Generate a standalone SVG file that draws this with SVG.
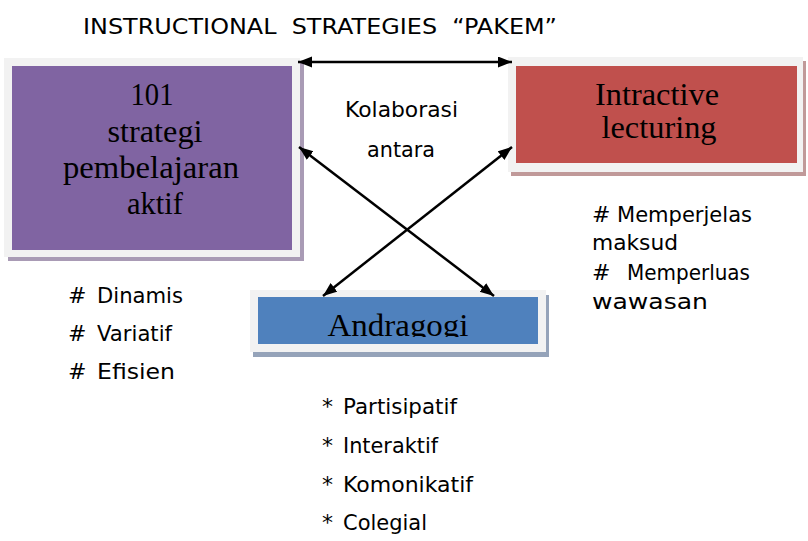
<svg xmlns="http://www.w3.org/2000/svg" width="808" height="541" viewBox="0 0 808 541">
<style>
.serif{font-family:"Liberation Serif","Times New Roman",serif;font-size:32px;fill:#000;text-anchor:middle}
.sans{font-family:"DejaVu Sans","Liberation Sans",sans-serif;font-size:22px;fill:#000}
.frame{fill:#f2f2f2}
.conn{stroke:#000;stroke-width:2.5;fill:none;marker-start:url(#ah);marker-end:url(#ah)}
</style>
<defs>
<marker id="ah" markerUnits="userSpaceOnUse" markerWidth="15" markerHeight="12" refX="14" refY="5.5" orient="auto-start-reverse" viewBox="0 0 15 12">
<path d="M0,0 L14,5.5 L0,11 z" fill="#000"/>
</marker>
<clipPath id="clipA"><rect x="258" y="297" width="280" height="40"/></clipPath>
</defs>
<rect width="808" height="541" fill="#fff"/>

<text class="sans" x="83" y="34" font-size="24" textLength="474" lengthAdjust="spacingAndGlyphs" xml:space="preserve">INSTRUCTIONAL  STRATEGIES  “PAKEM”</text>

<g id="node-101">
<rect x="8" y="62" width="296" height="199" fill="#a99bb5"/>
<rect class="frame" x="4" y="58" width="296" height="199"/>
<rect x="12" y="66" width="280" height="184" fill="#8064a2"/>
<text class="serif" x="152" y="105" textLength="43" lengthAdjust="spacingAndGlyphs">101</text>
<text class="serif" x="155" y="142" textLength="95" lengthAdjust="spacingAndGlyphs">strategi</text>
<text class="serif" x="151" y="178" textLength="176" lengthAdjust="spacingAndGlyphs">pembelajaran</text>
<text class="serif" x="155" y="214" textLength="56" lengthAdjust="spacingAndGlyphs">aktif</text>
</g>

<g id="node-intractive">
<rect x="511" y="61" width="295" height="115" fill="#c09999"/>
<rect class="frame" x="508" y="57" width="295" height="115"/>
<rect x="516" y="66" width="281" height="97" fill="#c0504d"/>
<text class="serif" x="657" y="105" textLength="124" lengthAdjust="spacingAndGlyphs">Intractive</text>
<text class="serif" x="659" y="138" textLength="115" lengthAdjust="spacingAndGlyphs">lecturing</text>
</g>

<g id="node-andragogi">
<rect x="253" y="295" width="296" height="62" fill="#95a3b9"/>
<rect class="frame" x="250" y="290" width="296" height="62"/>
<rect x="258" y="297" width="280" height="47" fill="#4f81bd"/>
<text class="serif" x="398" y="336" textLength="141" lengthAdjust="spacingAndGlyphs" clip-path="url(#clipA)">Andragogi</text>
</g>

<g id="connectors">
<line class="conn" x1="298" y1="62" x2="512" y2="62"/>
<line class="conn" x1="299" y1="147" x2="494" y2="296"/>
<line class="conn" x1="512" y1="147" x2="323" y2="296"/>
</g>

<g id="label-kolaborasi">
<text class="sans" x="345" y="117" textLength="113" lengthAdjust="spacingAndGlyphs">Kolaborasi</text>
<text class="sans" x="367" y="157" textLength="68" lengthAdjust="spacingAndGlyphs">antara</text>
</g>

<g id="list-left">
<text class="sans" x="68" y="303">#</text><text class="sans" x="97" y="303" textLength="86" lengthAdjust="spacingAndGlyphs">Dinamis</text>
<text class="sans" x="68" y="341">#</text><text class="sans" x="97" y="341" textLength="75" lengthAdjust="spacingAndGlyphs">Variatif</text>
<text class="sans" x="68" y="379">#</text><text class="sans" x="97" y="379" textLength="78" lengthAdjust="spacingAndGlyphs">Efisien</text>
</g>

<g id="list-right">
<text class="sans" x="592" y="222">#</text><text class="sans" x="617" y="222" textLength="135" lengthAdjust="spacingAndGlyphs">Memperjelas</text>
<text class="sans" x="592" y="250" textLength="86" lengthAdjust="spacingAndGlyphs">maksud</text>
<text class="sans" x="592" y="280">#</text><text class="sans" x="627" y="280" textLength="123" lengthAdjust="spacingAndGlyphs">Memperluas</text>
<text class="sans" x="592" y="309" textLength="116" lengthAdjust="spacingAndGlyphs">wawasan</text>
</g>

<g id="list-bottom">
<text class="sans" x="322" y="414">*</text><text class="sans" x="343" y="414" textLength="114" lengthAdjust="spacingAndGlyphs">Partisipatif</text>
<text class="sans" x="322" y="453">*</text><text class="sans" x="343" y="453" textLength="95" lengthAdjust="spacingAndGlyphs">Interaktif</text>
<text class="sans" x="322" y="492">*</text><text class="sans" x="343" y="492" textLength="130" lengthAdjust="spacingAndGlyphs">Komonikatif</text>
<text class="sans" x="322" y="530">*</text><text class="sans" x="343" y="530" textLength="84" lengthAdjust="spacingAndGlyphs">Colegial</text>
</g>
</svg>
